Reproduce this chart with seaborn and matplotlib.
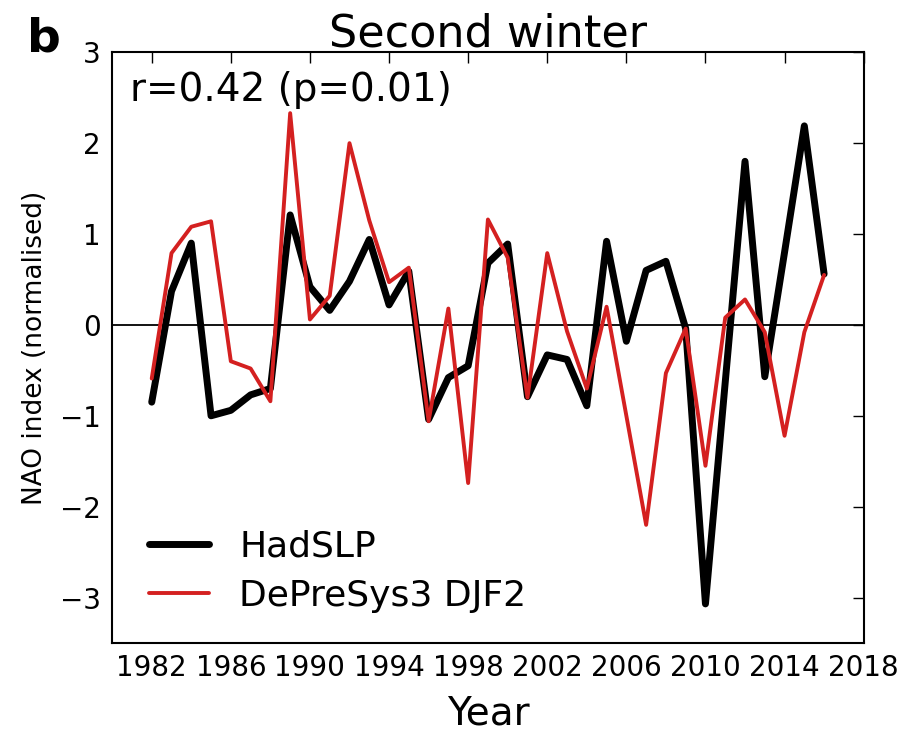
import numpy as np
import pandas as pd
import matplotlib
matplotlib.use("Agg")
import matplotlib.pyplot as plt
import seaborn as sns

years = list(range(1982, 2017))
hadslp = [-0.85, 0.37, 0.90, -1.00, -0.94, -0.77, -0.70, 1.21, 0.42, 0.16,
          0.48, 0.94, 0.22, 0.59, -1.04, -0.58, -0.45, 0.68, 0.89, -0.79,
          -0.33, -0.38, -0.89, 0.92, -0.18, 0.60, 0.70, -0.04, -3.07, -0.63,
          1.80, -0.57, 0.80, 2.19, 0.56]
depresys = [-0.59, 0.79, 1.08, 1.14, -0.40, -0.48, -0.84, 2.33, 0.06, 0.32,
            2.00, 1.15, 0.47, 0.63, -1.06, 0.18, -1.74, 1.16, 0.74, -0.80,
            0.79, -0.07, -0.70, 0.20, -1.00, -2.20, -0.53, -0.04, -1.55, 0.08,
            0.28, -0.08, -1.22, -0.08, 0.55]
series_names = ["HadSLP", "DePreSys3 DJF2"]
xticks = list(range(1982, 2019, 4))
yticks = [-3, -2, -1, 0, 1, 2, 3]

df = pd.DataFrame({"Year": years, series_names[0]: hadslp, series_names[1]: depresys})

sns.set_style("white")
plt.rcParams['font.family'] = ['DejaVu Sans']
plt.rcParams['text.color'] = 'black'
plt.rcParams['axes.labelcolor'] = 'black'
plt.rcParams['xtick.color'] = 'black'
plt.rcParams['ytick.color'] = 'black'

fig = plt.figure(figsize=(9.12, 7.32), dpi=100)
ax = fig.add_axes([0.123, 0.1216, 0.824, 0.807])

sns.lineplot(data=df, x="Year", y=series_names[0], color="black", lw=5,
             label=series_names[0], ax=ax)
sns.lineplot(data=df, x="Year", y=series_names[1], color="#d42020", lw=2.8,
             label=series_names[1], ax=ax)
ax.axhline(0, color="black", lw=1.3, zorder=1)

ax.set_xlim(1980, 2018)
ax.set_ylim(-3.5, 3)
ax.set_xticks(xticks)
ax.set_yticks(yticks)
ax.set_yticklabels([f"{t}".replace("-", "\u2212") for t in yticks])
ax.tick_params(axis='both', which='both', direction='in', length=8, width=1,
               top=True, right=True, labelsize=20, colors='black', pad=8)
for s in ax.spines.values():
    s.set_color('black')
    s.set_linewidth(1.5)

ax.set_xlabel("Year", fontsize=28, labelpad=9, color='black')
ax.set_ylabel("NAO index (normalised)", fontsize=19, labelpad=9, color='black')
ax.set_title("Second winter", fontsize=32, pad=4, color='black')
ax.text(0.024, 0.936, "r=0.42 (p=0.01)", transform=ax.transAxes, fontsize=28,
        va='center', ha='left', color='black')
fig.text(0.03, 0.947, "b", fontsize=34, fontweight='bold', va='center', ha='left',
         color='black')

leg = ax.legend(loc='lower left', bbox_to_anchor=(0.006, -0.004), frameon=False,
                fontsize=26, handlelength=1.65, handletextpad=0.85, labelspacing=0.42)
for t in leg.get_texts():
    t.set_color('black')

fig.savefig("out.png", dpi=100)
